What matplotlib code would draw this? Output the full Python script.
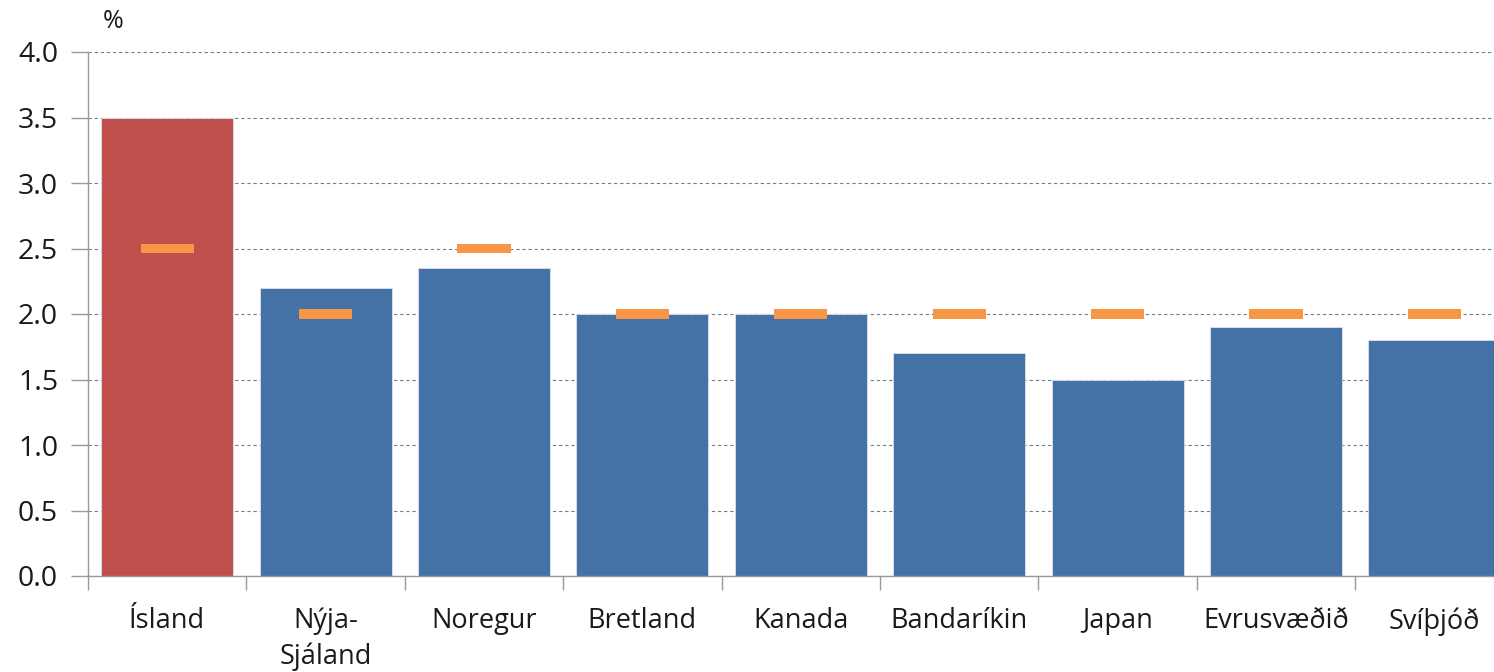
import matplotlib.pyplot as plt
import numpy as np

plt.rcParams['font.family'] = ['Open Sans', 'DejaVu Sans']

# Verðbólga og verðbólgumarkmið
lond = ['Ísland', 'Nýja-\nSjáland', 'Noregur', 'Bretland', 'Kanada',
        'Bandaríkin', 'Japan', 'Evrusvæðið', 'Svíþjóð']
verdbolga = [3.5, 2.2, 2.35, 2.0, 2.0, 1.7, 1.5, 1.9, 1.8]
markmid = [2.5, 2.0, 2.5, 2.0, 2.0, 2.0, 2.0, 2.0, 2.0]

litir = ['#C0504D'] + ['#4471A6'] * (len(lond) - 1)

fig = plt.figure(figsize=(14.94, 6.72), dpi=100)
ax = fig.add_axes([88 / 1494, 1 - 576 / 672, 1425.6 / 1494, 524 / 672])

x = np.arange(len(lond))
ax.bar(x, verdbolga, width=0.833, color=litir, edgecolor='#DCE3EC',
       linewidth=0.6, zorder=2)
# markmiðin sem stuttir láréttir kubbar
ax.bar(x, [0.076] * len(x), bottom=np.array(markmid) - 0.038, width=0.335,
       color='#F79646', zorder=3)

ax.set_xlim(-0.5, len(lond) - 0.5)
ax.set_ylim(0, 4.0)
ax.set_yticks(np.arange(0, 4.01, 0.5))
ax.set_yticklabels([f'{v:.1f}' for v in np.arange(0, 4.01, 0.5)])
ax.yaxis.grid(True, linestyle=(0, (3, 2.5)), color='#6F7F95', linewidth=0.8)
ax.set_axisbelow(True)

ax.set_xticks(x)
ax.set_xticklabels(lond, fontsize=19.5, color='#1A1A1A', linespacing=1.32,
                   va='top')
ax.set_xticks(np.arange(-0.5, len(lond), 1), minor=True)
ax.tick_params(axis='x', which='major', length=0, pad=22.5)
ax.tick_params(axis='x', which='minor', length=10, color='#999999', width=1)
ax.tick_params(axis='y', length=12.5, color='#999999', width=1, labelsize=20.5,
               labelcolor='#1A1A1A', pad=9)

for s in ['top', 'right']:
    ax.spines[s].set_visible(False)
for s in ['left', 'bottom']:
    ax.spines[s].set_color('#999999')
    ax.spines[s].set_linewidth(1)

fig.text(113 / 1494, 1 - 22 / 672, '%', fontsize=18, ha='center',
         va='center', color='#1A1A1A')

fig.savefig('out.png', dpi=100)
